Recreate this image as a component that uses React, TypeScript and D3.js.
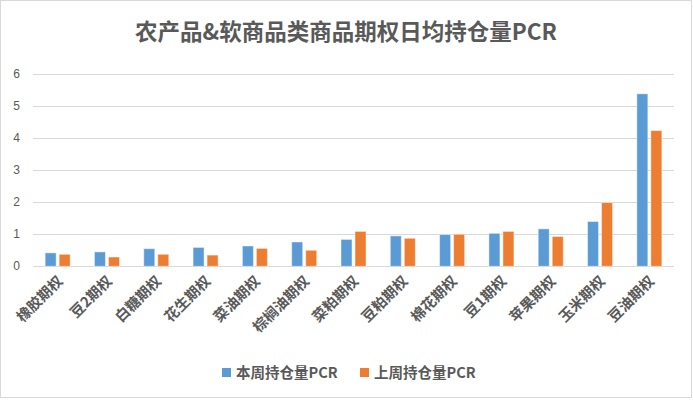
import { useEffect, useRef } from 'react';
import * as d3 from 'd3';

const title = '农产品&软商品类商品期权日均持仓量PCR';
const categories = ['橡胶期权', '豆2期权', '白糖期权', '花生期权', '菜油期权', '棕榈油期权', '菜粕期权', '豆粕期权', '棉花期权', '豆1期权', '苹果期权', '玉米期权', '豆油期权'];
const thisWeek = [0.42, 0.45, 0.55, 0.59, 0.635, 0.76, 0.84, 0.95, 0.99, 1.03, 1.17, 1.4, 5.39];
const lastWeek = [0.375, 0.29, 0.375, 0.35, 0.56, 0.5, 1.09, 0.875, 1.0, 1.09, 0.93, 1.99, 4.24];
const seriesNames = ['本周持仓量PCR', '上周持仓量PCR'];
const seriesColors = ['#5B9BD5', '#ED7D31'];
const yTicks = [0, 1, 2, 3, 4, 5, 6];

const W = 693, H = 400;

export default function App() {
  const ref = useRef<SVGSVGElement | null>(null);
  useEffect(() => {
    document.body.style.margin = '0';
    const svg = d3.select(ref.current!);
    svg.selectAll('*').remove();
    svg.append('rect').attr('x', 0.5).attr('y', 0.5).attr('width', W - 2).attr('height', H - 3)
      .attr('fill', '#fff').attr('stroke', '#d9d9d9');

    svg.append('text').attr('x', 346).attr('y', 40).attr('text-anchor', 'middle')
      .attr('font-family', '"Noto Sans CJK SC", sans-serif').attr('font-weight', 'bold')
      .attr('font-size', 22.5).attr('fill', '#595959').text(title);

    const x = d3.scaleBand<string>().domain(categories).range([33, 674]);
    const inner = d3.scaleBand<number>().domain([0, 1]).range([0, x.bandwidth()]).paddingInner(0.214).paddingOuter(0.867);
    const y = d3.scaleLinear().domain([0, 6]).range([266.3, 74.3]);

    const grid = svg.append('g');
    grid.selectAll('line').data(yTicks).enter().append('line')
      .attr('x1', 33).attr('x2', 674).attr('y1', (d) => Math.round(y(d)) + 0.5).attr('y2', (d) => Math.round(y(d)) + 0.5)
      .attr('stroke', '#d9d9d9').attr('stroke-width', 1);
    svg.append('g').selectAll('text').data(yTicks).enter().append('text')
      .attr('x', 20).attr('y', (d) => y(d) + 4).attr('text-anchor', 'end')
      .attr('font-family', '"Liberation Sans", Arial, sans-serif').attr('font-size', 12).attr('fill', '#595959')
      .text((d) => String(d));

    const series = [thisWeek, lastWeek];
    series.forEach((vals, si) => {
      svg.append('g').selectAll('rect').data(vals).enter().append('rect')
        .attr('x', (_, i) => (x(categories[i]) ?? 0) + (inner(si) ?? 0))
        .attr('y', (d) => y(d))
        .attr('width', inner.bandwidth())
        .attr('height', (d) => y(0) - y(d))
        .attr('fill', seriesColors[si])
        .attr('stroke', '#fff').attr('stroke-opacity', 0.45).attr('stroke-width', 1);
    });

    svg.append('g').selectAll('text').data(categories).enter().append('text')
      .attr('transform', (d) => `translate(${(x(d) ?? 0) + x.bandwidth() / 2 + 6},${282}) rotate(-45)`)
      .attr('text-anchor', 'end')
      .attr('font-family', '"Noto Sans CJK SC", sans-serif').attr('font-weight', 'bold')
      .attr('font-size', 14.5).attr('fill', '#595959')
      .text((d) => d);

    const legendX = [222, 360];
    seriesNames.forEach((name, si) => {
      svg.append('rect').attr('x', legendX[si]).attr('y', 368).attr('width', 9).attr('height', 9).attr('fill', seriesColors[si]);
      svg.append('text').attr('x', legendX[si] + 14).attr('y', 378)
        .attr('font-family', '"Noto Sans CJK SC", sans-serif').attr('font-weight', 'bold')
        .attr('font-size', 14.5).attr('fill', '#595959').text(name);
    });
  }, []);
  return (
    <div style={{ position: 'absolute', left: 0, top: 0 }}>
      <svg ref={ref} width={W} height={H} style={{ display: 'block' }} />
    </div>
  );
}
